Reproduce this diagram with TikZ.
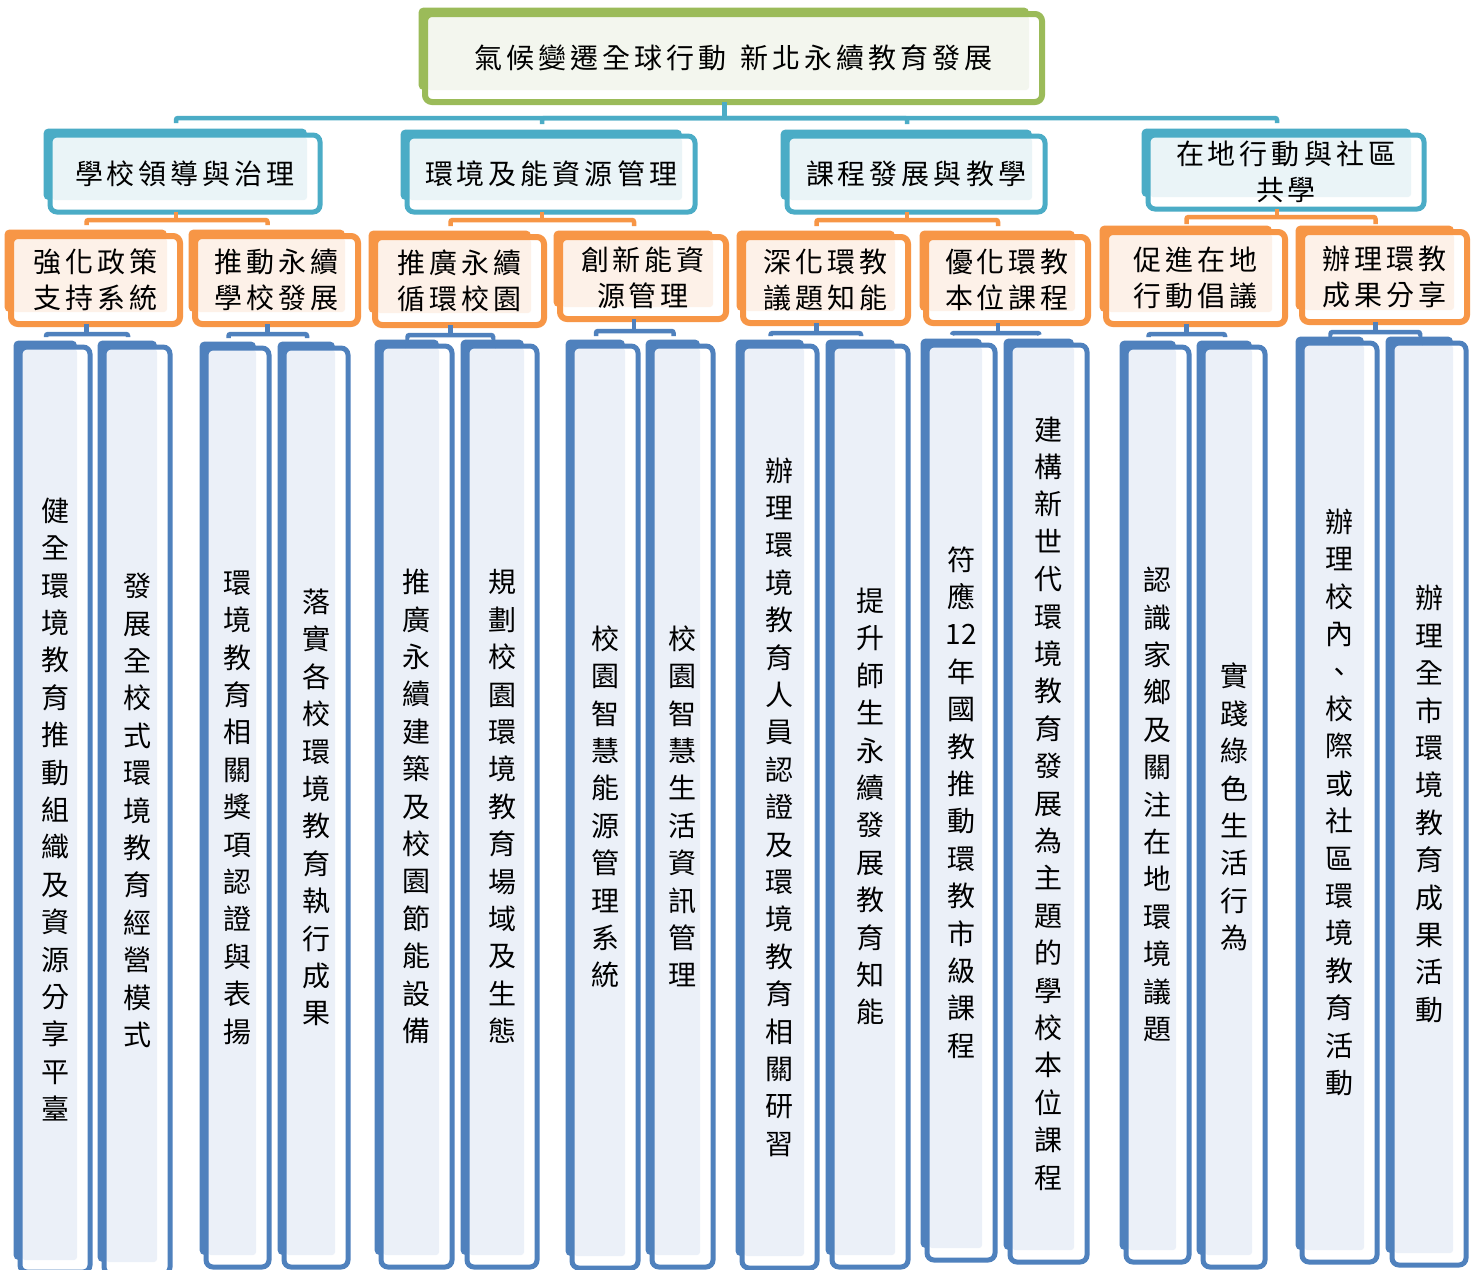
\documentclass[tikz,border=0pt]{standalone}
\usepackage{fontspec}
\setmainfont{Noto Sans CJK TC}
\pgfdeclarelayer{background}
\pgfsetlayers{background,main}
\definecolor{cg}{HTML}{9BBB59}\definecolor{tg}{HTML}{F3F6EE}
\definecolor{ct}{HTML}{4BACC6}\definecolor{tt}{HTML}{EAF4F7}
\definecolor{co}{HTML}{F79646}\definecolor{to}{HTML}{FDF1E8}
\definecolor{cb}{HTML}{4F81BD}\definecolor{tb}{HTML}{EBF0F8}
\makeatletter
\newcommand\hs[1]{\def\my@sep{}\@tfor\my@c:=#1\do{\my@sep\my@c\def\my@sep{\hspace{4pt}}}}
\newcommand\vt[1]{\def\my@list{}\def\my@sep{}\@tfor\my@c:=#1\do{\edef\my@list{\unexpanded\expandafter{\my@list}\unexpanded\expandafter{\my@sep}\unexpanded\expandafter{\my@c}}\def\my@sep{\\}}\my@list}
\makeatother
\tikzset{
  conn/.style={line width=4.5pt, rounded corners=2pt},
  box/.style={rounded corners=7pt, inner sep=0pt, outer sep=0pt, text=black},
  lvg/.style={draw=cg, line width=6pt, font=\fontsize{28pt}{36pt}\selectfont},
  lvt/.style={draw=ct, line width=5pt, align=center, font=\fontsize{28pt}{36pt}\selectfont},
  lvo/.style={draw=co, line width=6pt, align=center, font=\fontsize{28pt}{36pt}\selectfont},
  lvb/.style={draw=cb, line width=5pt, align=center, font=\fontsize{28pt}{37.4pt}\selectfont},
}
\newcommand\bx[7]{%
  \node[box, lv#6, minimum width={(#4-#2)*1pt}, minimum height={(#5-#3)*1pt}] (#1) at ({(#2+#4)/2},{(#3+#5)/2}) {#7};
  \begin{pgfonlayer}{background}
    \fill[c#6, rounded corners=5pt] ({#2-6.5},{#3-6.5}) rectangle ({#4-13},{#5-12});
    \fill[white, rounded corners=7pt] (#2,#3) rectangle (#4,#5);
    \fill[t#6, rounded corners=3pt] ({#2+2},{#3+2}) rectangle ({#4-13},{#5-12});
  \end{pgfonlayer}}
\newcommand\brk[6]{%
  \draw[conn, #1] ([xshift=-9pt]#2.south) -- ++(0,#5);
  \draw[conn, #1] ([xshift=-9pt,yshift=#6pt]#3.north) |- ([xshift=-9pt,yshift=-#5pt]#2.south) -| ([xshift=-9pt,yshift=#6pt]#4.north);}
\begin{document}
\begin{tikzpicture}[x=1pt,y=-1pt]
\begin{pgfonlayer}{background}
\fill[white] (0,0) rectangle (1475,1269);
\end{pgfonlayer}
\useasboundingbox (0,0) rectangle (1475,1269);
% level 1
\bx{top}{425}{14}{1042}{102}{g}{\hs{氣候變遷全球行動}\hspace{14pt}\hs{新北永續教育發展}}
% level 2
\bx{A1}{50}{135}{320}{212}{t}{\hs{學校領導與治理}}
\bx{A2}{407}{136}{695}{212}{t}{\hs{環境及能資源管理}}
\bx{A3}{787}{136}{1045}{212}{t}{\hs{課程發展與教學}}
\bx{A4}{1148}{135}{1424}{209}{t}{\hs{在地行動與社區}\\\hs{共學}}
% level 3
\bx{B1}{11}{236}{180}{324}{o}{\hs{強化政策}\\\hs{支持系統}}
\bx{B2}{195}{236}{358}{324}{o}{\hs{推動永續}\\\hs{學校發展}}
\bx{B3}{375}{237}{544}{325}{o}{\hs{推廣永續}\\\hs{循環校園}}
\bx{B4}{560}{237}{726}{319}{o}{\hs{創新能資}\\\hs{源管理}}
\bx{B5}{743}{237}{908}{323}{o}{\hs{深化環教}\\\hs{議題知能}}
\bx{B6}{926}{237}{1088}{323}{o}{\hs{優化環教}\\\hs{本位課程}}
\bx{B7}{1106}{232}{1285}{324}{o}{\hs{促進在地}\\\hs{行動倡議}}
\bx{B8}{1302}{232}{1467}{322}{o}{\hs{辦理環教}\\\hs{成果分享}}
% level 4
\bx{C1}{20}{347}{90}{1272}{b}{\vt{健全環境教育推動組織及資源分享平臺}}
\bx{C2}{104}{347}{170}{1274}{b}{\vt{發展全校式環境教育經營模式}}
\bx{C3}{206}{348}{269}{1267}{b}{\vt{環境教育相關獎項認證與表揚}}
\bx{C4}{284}{348}{348}{1267}{b}{\vt{落實各校環境教育執行成果}}
\bx{C5}{381}{346}{452}{1267}{b}{\vt{推廣永續建築及校園節能設備}}
\bx{C6}{467}{346}{537}{1267}{b}{\vt{規劃校園環境教育場域及生態}}
\bx{C7}{572}{346}{638}{1268}{b}{\vt{校園智慧能源管理系統}}
\bx{C8}{652}{346}{713}{1267}{b}{\vt{校園智慧生活資訊管理}}
\bx{C9}{742}{346}{817}{1268}{b}{\vt{辦理環境教育人員認證及環境教育相關研習}}
\bx{C10}{832}{346}{908}{1267}{b}{\vt{提升師生永續發展教育知能}}
\bx{C11}{927}{345}{995}{1260}{b}{\vt{符應{12}年國教推動環教市級課程}}
\bx{C12}{1010}{345}{1087}{1262}{b}{\vt{建構新世代環境教育發展為主題的學校本位課程}}
\bx{C13}{1126}{347}{1189}{1262}{b}{\vt{認識家鄉及關注在地環境議題}}
\bx{C14}{1203}{347}{1265}{1267}{b}{\vt{實踐綠色生活行為}}
\bx{C15}{1302}{343}{1377}{1262}{b}{\vt{辦理校內、校際或社區環境教育活動}}
\bx{C16}{1392}{343}{1466}{1265}{b}{\vt{辦理全市環境教育成果活動}}
% connectors level 1 -> 2
\draw[conn, ct] ([xshift=-9pt]top.south) -- ++(0,16);
\draw[conn, ct] ([xshift=-9pt,yshift=12pt]A1.north) |- ([xshift=-9pt,yshift=-16pt]top.south) -| ([xshift=-9pt,yshift=12pt]A4.north);
\draw[conn, ct] ([xshift=-9pt,yshift=12pt]A2.north) |- ([xshift=-9pt,yshift=-16pt]top.south);
\draw[conn, ct] ([xshift=-9pt,yshift=12pt]A3.north) |- ([xshift=-9pt,yshift=-16pt]top.south);
% connectors level 2 -> 3
\brk{co}{A1}{B1}{B2}{8}{11}
\brk{co}{A2}{B3}{B4}{8}{11}
\brk{co}{A3}{B5}{B6}{8}{11}
\brk{co}{A4}{B7}{B8}{8}{8}
% connectors level 3 -> 4
\brk{cb}{B1}{C1}{C2}{10}{10}
\brk{cb}{B2}{C3}{C4}{10}{10}
\brk{cb}{B3}{C5}{C6}{10}{10}
\brk{cb}{B4}{C7}{C8}{12}{10}
\brk{cb}{B5}{C9}{C10}{10}{10}
\brk{cb}{B6}{C11}{C12}{10}{10}
\brk{cb}{B7}{C13}{C14}{10}{10}
\brk{cb}{B8}{C15}{C16}{10}{10}
\end{tikzpicture}
\end{document}
